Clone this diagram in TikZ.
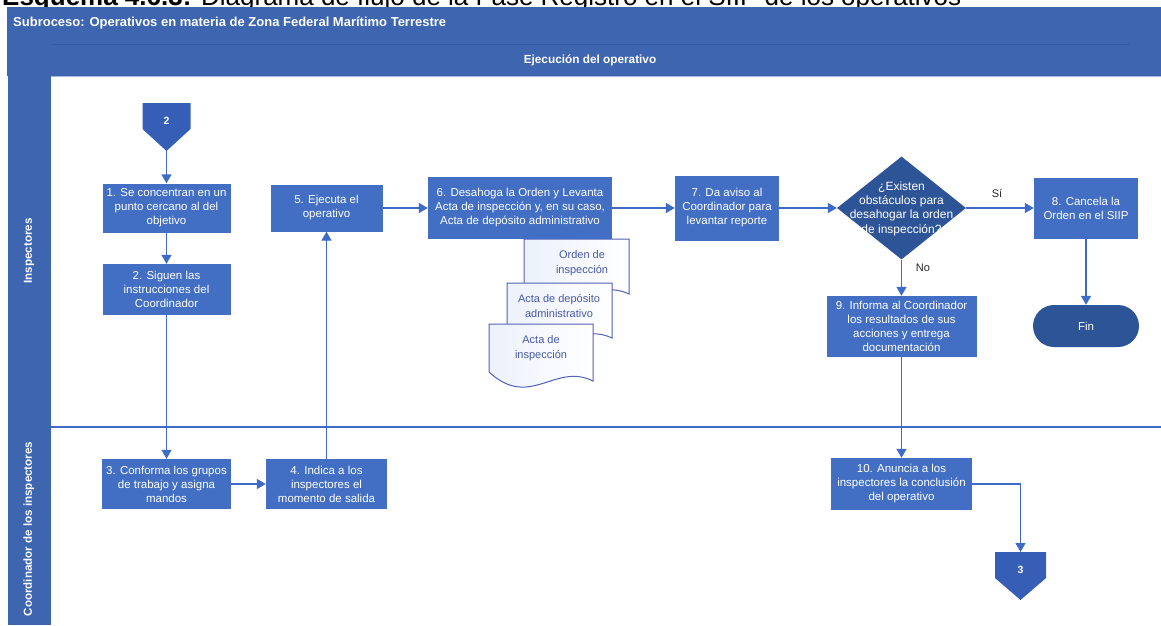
\documentclass[tikz,border=0pt]{standalone}
\usepackage{fontspec}
\setmainfont{Liberation Sans}
\usetikzlibrary{arrows.meta,shapes.geometric}

\definecolor{bandblue}{RGB}{61,101,176}
\definecolor{bandline}{RGB}{52,91,165}
\definecolor{boxblue}{RGB}{66,111,196}
\definecolor{darkblue}{RGB}{46,84,152}
\definecolor{conblue}{RGB}{54,94,182}
\definecolor{arrowblue}{RGB}{62,106,200}
\definecolor{docline}{RGB}{82,96,184}
\definecolor{doctext}{RGB}{72,88,168}
\definecolor{docfill}{RGB}{236,241,251}

\tikzset{
  stepbox/.style={fill=boxblue, text=white, align=center, inner sep=0pt,
    font=\fontsize{11.5}{14}\selectfont},
  flow/.style={draw=arrowblue, line width=1.4pt,
    -{Triangle[length=9pt,width=10pt]}},
  lanerule/.style={draw=arrowblue, line width=1.4pt},
  docshape/.style={draw=docline, line width=1pt, left color=docfill, right color=white},
  doclabel/.style={text=doctext, align=center, inner sep=0pt,
    font=\fontsize{11}{15}\selectfont},
  offpage/.style={fill=conblue},
  offlabel/.style={text=white, inner sep=0pt, font=\bfseries\fontsize{10.5}{12}\selectfont},
  branch/.style={text=black!85, inner sep=0pt, font=\fontsize{11}{13}\selectfont},
  lanetitle/.style={text=white, inner sep=0pt, rotate=90,
    font=\bfseries\fontsize{11.6}{13}\selectfont}
}

\begin{document}
\begin{tikzpicture}[x=1pt,y=-1pt]
\useasboundingbox (0,0) rectangle (1161,625);
\clip (0,0) rectangle (1161,625);

% caption line above the pool (its upper part lies outside the page)
\node[anchor=base west, inner sep=0pt, font=\fontsize{26}{26}\selectfont] (caption) at (2,5)
  {\textbf{Esquema 4.6.3:} Diagrama de flujo de la Fase Registro en el SIIP de los operativos};

% pool header and lane column
\fill[bandblue] (7,7) rectangle (1161,76);
\fill[bandblue] (8,76) rectangle (51,625);
\draw[bandline, line width=0.8pt] (51,44) -- (1130,44);
\draw[white!55!bandblue, line width=1pt] (51,76.5) -- (1161,76.5);

\node[anchor=west, text=white, inner sep=0pt, font=\bfseries\fontsize{13}{15}\selectfont] (title) at (13,23)
  {Subroceso: Operativos en materia de Zona Federal Marítimo Terrestre};
\node[text=white, inner sep=0pt, font=\bfseries\fontsize{11.8}{13}\selectfont] (phase) at (590,60)
  {Ejecución del operativo};

\node[lanetitle] (laneA) at (29,251) {Inspectores};
\node[lanetitle] (laneB) at (29,529) {Coordinador de los inspectores};

% lane separator
\draw[lanerule] (51,427) -- (1161,427);

% off-page connector 2
\fill[offpage] (142.5,103) -- (190.5,103) -- (190.5,129) -- (166.5,151) -- (142.5,129) -- cycle;
\node[offlabel] (c2) at (166.5,121) {2};
\coordinate (c2tip) at (166.5,151);

% process steps
\node[stepbox, minimum width=128pt, minimum height=49pt] (b1) at (166.5,208)
  {1. Se concentran en un\\punto cercano al del\\objetivo};
\node[stepbox, minimum width=128pt, minimum height=51pt] (b2) at (166.5,289.5)
  {2. Siguen las\\instrucciones del\\Coordinador};
\node[stepbox, minimum width=129pt, minimum height=50pt] (b3) at (166.5,484)
  {3. Conforma los grupos\\de trabajo y asigna\\mandos};
\node[stepbox, minimum width=121pt, minimum height=50pt] (b4) at (326.5,484)
  {4. Indica a los\\inspectores el\\momento de salida};
\node[stepbox, minimum width=112pt, minimum height=47pt] (b5) at (326.5,208)
  {5. Ejecuta el\\operativo};

% documents produced in step 6 (back to front)
\begin{scope}[shift={(524,239)}]
  \draw[docshape] (0,0) -- (105,0) -- (105,55) .. controls (67,37) and (41,85) .. (0,47) -- cycle;
\end{scope}
\begin{scope}[shift={(507,283)}]
  \draw[docshape] (0,0) -- (105,0) -- (105,55) .. controls (67,37) and (41,85) .. (0,47) -- cycle;
\end{scope}
\begin{scope}[shift={(489,324)}]
  \draw[docshape] (0,0) -- (104,0) -- (104,57) .. controls (66,38) and (41,86) .. (0,48) -- cycle;
\end{scope}
\node[doclabel] (docA) at (582,263) {Orden de\\inspección};
\node[doclabel] (docB) at (559,306) {Acta de depósito\\administrativo};
\node[doclabel] (docC) at (541,348) {Acta de\\inspección};

\node[stepbox, minimum width=184pt, minimum height=62pt] (b6) at (520,208)
  {6. Desahoga la Orden y Levanta\\Acta de inspección y, en su caso,\\Acta de depósito administrativo};
\node[stepbox, minimum width=104pt, minimum height=65pt] (b7) at (727,208)
  {7. Da aviso al\\Coordinador para\\levantar reporte};

% decision
\node[diamond, fill=darkblue, minimum width=129pt, minimum height=103pt, inner sep=0pt] (dec) at (901.5,208) {};
\node[text=white, align=center, inner sep=0pt, font=\fontsize{12}{14.3}\selectfont] (dectext) at (901.5,208.5)
  {¿Existen\\obstáculos para\\desahogar la orden\\de inspección?};

\node[stepbox, minimum width=104pt, minimum height=61pt] (b8) at (1086,208)
  {8. Cancela la\\Orden en el SIIP};
\node[fill=darkblue, text=white, rounded corners=21pt, minimum width=106pt, minimum height=42pt,
  inner sep=0pt, font=\fontsize{11.5}{14}\selectfont] (fin) at (1086,326) {Fin};
\node[stepbox, minimum width=150pt, minimum height=61pt] (b9) at (901.5,326.5)
  {9. Informa al Coordinador\\los resultados de sus\\acciones y entrega\\documentación};
\node[stepbox, minimum width=141pt, minimum height=52pt] (b10) at (901.5,484)
  {10. Anuncia a los\\inspectores la conclusión\\del operativo};

% off-page connector 3
\fill[offpage] (995,552) -- (1046,552) -- (1046,578) -- (1020.5,600) -- (995,578) -- cycle;
\node[offlabel] (c3) at (1020.5,570) {3};
\coordinate (c3top) at (1020.5,552);

% branch labels
\node[branch] (si) at (997,193) {Sí};
\node[branch] (no) at (923,268) {No};

% flow
\draw[flow] (c2tip) -- (b1.north);
\draw[flow] (b1.south) -- (b2.north);
\draw[flow] (b2.south) -- (b3.north);
\draw[flow] (b3.east) -- (b4.west);
\draw[flow] (b4.north) -- (b5.south);
\draw[flow] (b5.east) -- (b6.west);
\draw[flow] (b6.east) -- (b7.west);
\draw[flow] (b7.east) -- (dec.west);
\draw[flow] (dec.east) -- (b8.west);
\draw[flow] (dec.south) -- (b9.north);
\draw[flow] (b8.south) -- (fin.north);
\draw[flow] (b9.south) -- (b10.north);
\draw[flow] (b10.east) -| (c3top);
\end{tikzpicture}
\end{document}
